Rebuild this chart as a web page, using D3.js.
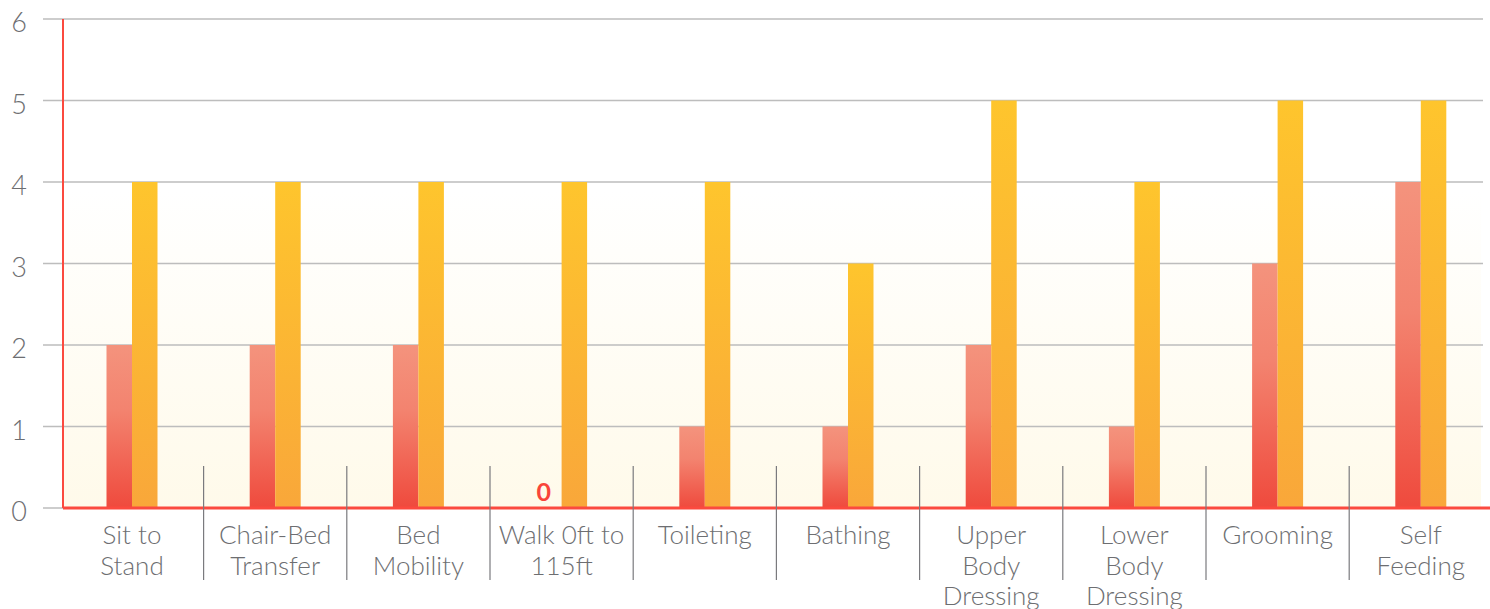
<!DOCTYPE html>
<html>
<head>
<meta charset="utf-8">
<script src="https://cdn.jsdelivr.net/npm/d3@7"></script>
<style>
  body { margin: 0; background: #fff; }
  svg { display: block; font-family: Lato, "Open Sans", sans-serif; font-weight: 300; }
</style>
</head>
<body>
<svg id="chart" width="1490" height="609"></svg>
<script>
const categories = [
  ["Sit to", "Stand"],
  ["Chair-Bed", "Transfer"],
  ["Bed", "Mobility"],
  ["Walk 0ft to", "115ft"],
  ["Toileting"],
  ["Bathing"],
  ["Upper", "Body", "Dressing"],
  ["Lower", "Body", "Dressing"],
  ["Grooming"],
  ["Self", "Feeding"],
];
const before = [2, 2, 2, 0, 1, 1, 2, 1, 3, 4];
const after = [4, 4, 4, 4, 4, 3, 5, 4, 5, 5];
const yTicks = [0, 1, 2, 3, 4, 5, 6];

const svg = d3.select("#chart");
const width = 1490;

const x = d3
  .scaleBand()
  .domain(d3.range(categories.length))
  .range([60.4, 1492.4]);
const y = d3.scaleLinear().domain([0, 6]).range([508, 19]);
const series = ["before", "after"];
const x1 = d3.scaleBand().domain(series).range([-25.5, 25.5]);

const defs = svg.append("defs");
const addGrad = (id, stops) => {
  const g = defs
    .append("linearGradient")
    .attr("id", id)
    .attr("x1", 0)
    .attr("y1", 0)
    .attr("x2", 0)
    .attr("y2", 1);
  stops.forEach(([o, c, op]) =>
    g
      .append("stop")
      .attr("offset", o)
      .attr("stop-color", c)
      .attr("stop-opacity", op === undefined ? 1 : op)
  );
};
addGrad("gradRed", [
  [0, "#f4937d"],
  [0.4, "#f3836f"],
  [1, "#ef4a3d"],
]);
addGrad("gradOrange", [
  [0, "#fec52d"],
  [1, "#f9a73a"],
]);
addGrad("gradBg", [
  [0, "#fffaea", 0],
  [0.35, "#fffaea", 0],
  [1, "#fffaea", 1],
]);

// plot background
svg
  .append("rect")
  .attr("x", 63)
  .attr("y", y(6))
  .attr("width", 1481 - 63)
  .attr("height", y(0) - y(6))
  .attr("fill", "url(#gradBg)");

// gridlines + y labels
svg
  .append("g")
  .selectAll("line")
  .data(yTicks)
  .join("line")
  .attr("x1", 43)
  .attr("x2", 1483)
  .attr("y1", (d) => y(d))
  .attr("y2", (d) => y(d))
  .attr("stroke", "#bdbdbd")
  .attr("stroke-width", 1.5);

svg
  .append("g")
  .selectAll("text")
  .data(yTicks)
  .join("text")
  .attr("x", 27)
  .attr("y", (d) => y(d) + 13)
  .attr("text-anchor", "end")
  .attr("fill", "#6d6e71")
  .style("font-size", "27px")
  .text((d) => d);

// bars
const groups = svg
  .append("g")
  .selectAll("g")
  .data(categories.map((c, i) => ({ i, before: before[i], after: after[i] })))
  .join("g")
  .attr("transform", (d) => `translate(${x(d.i) + x.bandwidth() / 2},0)`);

groups
  .selectAll("rect")
  .data((d) => series.map((s) => ({ s, v: d[s] })))
  .join("rect")
  .attr("x", (d) => x1(d.s))
  .attr("width", x1.bandwidth())
  .attr("y", (d) => y(d.v))
  .attr("height", (d) => y(0) - y(d.v))
  .attr("fill", (d) => (d.s == "before" ? "url(#gradRed)" : "url(#gradOrange)"));

// zero labels
groups
  .filter((d) => d.before === 0)
  .append("text")
  .attr("x", x1("before") + x1.bandwidth() / 2 - 5)
  .attr("y", y(0) - 7)
  .attr("text-anchor", "middle")
  .attr("fill", "#f9453a")
  .style("font-size", "25px")
  .style("font-weight", "bold")
  .text("0");

// axes lines
svg
  .append("line")
  .attr("x1", 63)
  .attr("x2", width)
  .attr("y1", y(0))
  .attr("y2", y(0))
  .attr("stroke", "#fb4a3f")
  .attr("stroke-width", 3);
svg
  .append("line")
  .attr("x1", 63)
  .attr("x2", 63)
  .attr("y1", y(6))
  .attr("y2", y(0))
  .attr("stroke", "#fb4a3f")
  .attr("stroke-width", 2);

// dividers between categories
svg
  .append("g")
  .selectAll("line")
  .data(d3.range(1, categories.length))
  .join("line")
  .attr("x1", (i) => x(i))
  .attr("x2", (i) => x(i))
  .attr("y1", 466)
  .attr("y2", 580)
  .attr("stroke", "#7a7a7e")
  .attr("stroke-width", 1.2);

// category labels
const labels = svg
  .append("g")
  .selectAll("text")
  .data(categories)
  .join("text")
  .attr("x", (d, i) => x(i) + x.bandwidth() / 2)
  .attr("y", 544)
  .attr("text-anchor", "middle")
  .attr("fill", "#6d6e71")
  .style("font-size", "26px");

labels
  .selectAll("tspan")
  .data((d, i) => d.map((t) => ({ t, i })))
  .join("tspan")
  .attr("x", (d) => x(d.i) + x.bandwidth() / 2)
  .attr("dy", (d, j) => (j === 0 ? 0 : 30.5))
  .text((d) => d.t);
</script>
</body>
</html>
